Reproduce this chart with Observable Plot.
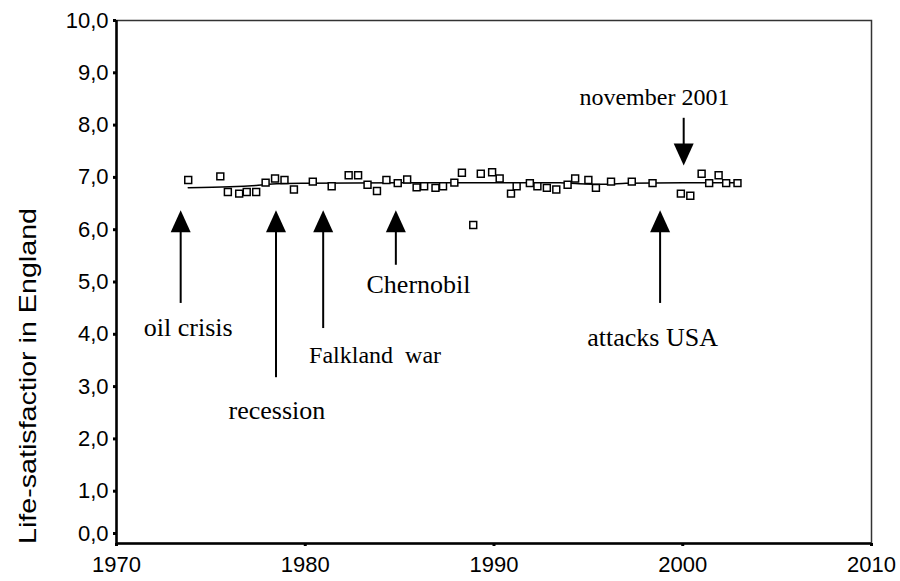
<!DOCTYPE html>
<html><head><meta charset="utf-8">
<script src="https://cdn.jsdelivr.net/npm/d3@7"></script>
<script src="https://cdn.jsdelivr.net/npm/@observablehq/plot@0.6"></script>
<style>body{margin:0;background:#fff} svg{display:block}</style>
</head><body><div id="chart"></div>
<script>
// Survey points: year and average life-satisfaction (0-10)
const years = [1973.8, 1975.5, 1975.9, 1976.5, 1976.9, 1977.4, 1977.9, 1978.4, 1978.9, 1979.4,
  1980.4, 1981.4, 1982.3, 1982.8, 1983.3, 1983.8, 1984.3, 1984.9, 1985.4, 1985.9,
  1986.3, 1986.9, 1987.3, 1987.9, 1988.3, 1988.9, 1989.3, 1989.9, 1990.3, 1990.9,
  1991.2, 1991.9, 1992.3, 1992.8, 1993.3, 1993.9, 1994.3, 1995.0, 1995.4, 1996.2,
  1997.3, 1998.4, 1999.9, 2000.4, 2001.0, 2001.4, 2001.9, 2002.3, 2002.9];
const values = [6.95, 7.02, 6.72, 6.69, 6.72, 6.72, 6.90, 6.98, 6.95, 6.77,
  6.92, 6.83, 7.04, 7.04, 6.86, 6.74, 6.95, 6.89, 6.96, 6.81,
  6.83, 6.80, 6.83, 6.90, 7.09, 6.09, 7.07, 7.10, 6.98, 6.69,
  6.83, 6.89, 6.83, 6.80, 6.77, 6.86, 6.98, 6.95, 6.80, 6.92,
  6.92, 6.89, 6.69, 6.65, 7.07, 6.89, 7.04, 6.89, 6.89];

// Smoothed trend line
const trendYears = [1973.8, 1976.0, 1977.5, 1978.5, 1980.0, 1985.0, 1990.0, 1993.5, 1994.5, 1996.0, 1997.0, 2000.0, 2002.9];
const trendValues = [6.80, 6.82, 6.85, 6.88, 6.89, 6.90, 6.90, 6.90, 6.88, 6.87, 6.89, 6.90, 6.90];

// Axis ticks
const xTicks = [1970, 1980, 1990, 2000, 2010];
const yTicks = [1, 2, 3, 4, 5, 6, 7, 8, 9, 10];
const yTickZero = [0];

// Events (up arrows)
const eventNames = ["oil crisis", "recession", "Falkland\u00a0\u00a0war", "Chernobil", "attacks USA"];
const eventYears = [1973.4, 1978.45, 1980.95, 1984.8, 1998.8];
const eventHeadValue = 6.16;
const eventShaftTop = 6.0;
const eventShaftBottom = [4.59, 3.17, 4.11, 5.32, 4.59];
const labelYears = [1973.8, 1978.5, 1983.7, 1986.0, 1998.4];
const labelValues = [4.13, 2.54, 3.59, 4.95, 3.94];
const labelSizes = [26, 26, 24, 26, 26];

// november 2001 (down arrow)
const novName = "november 2001";
const novYear = 2000.05;
const novShaftTop = 8.13;
const novShaftBottom = 7.55;
const novHeadValue = 7.44;
const novLabelYear = 1998.5;
const novLabelValue = 8.53;

const events = eventNames.map((name, i) => ({name, x: eventYears[i], y2: eventShaftBottom[i], lx: labelYears[i], ly: labelValues[i], size: labelSizes[i]}));

const triUp = {draw(ctx) { ctx.moveTo(0, -11); ctx.lineTo(10, 11); ctx.lineTo(-10, 11); ctx.closePath(); }};
const triDown = {draw(ctx) { ctx.moveTo(0, 11); ctx.lineTo(10, -11); ctx.lineTo(-10, -11); ctx.closePath(); }};

const serif = "'Liberation Serif', 'Times New Roman', serif";
const fmtY = d => d.toFixed(1).replace(".", ",");

const plot = Plot.plot({
  width: 900, height: 581,
  marginLeft: 116, marginRight: 29, marginTop: 20, marginBottom: 38,
  style: {fontFamily: "'Liberation Sans', Arial, sans-serif", fontSize: "22px", color: "#000", background: "#fff"},
  x: {domain: [1970, 2010]},
  y: {domain: [0, 10]},
  marks: [
    Plot.frame({stroke: "#333", strokeWidth: 1.5}),
    Plot.axisX({ticks: xTicks, tickFormat: d => String(d), tickSize: 3, strokeWidth: 3, tickPadding: 10, label: null}),
    Plot.axisY({ticks: yTicks, tickFormat: fmtY, tickSize: 3, strokeWidth: 3, tickPadding: 5, label: null}),
    Plot.axisY({ticks: yTickZero, tickFormat: fmtY, tickSize: 3, strokeWidth: 3, tickPadding: 5, label: null, dy: -10}),
    Plot.ruleX([1970], {stroke: "#000", strokeWidth: 2.5}),
    Plot.ruleY([0], {stroke: "#000", strokeWidth: 2.5}),
    Plot.line(trendYears.map((x, i) => ({x, y: trendValues[i]})), {x: "x", y: "y", stroke: "#000", strokeWidth: 1.5, curve: "monotone-x"}),
    Plot.dot(years.map((x, i) => ({x, y: values[i]})), {x: "x", y: "y", symbol: "square", r: 3.9, stroke: "#000", strokeWidth: 1.5, fill: "#fff"}),
    // up arrows
    Plot.ruleX(events, {x: "x", y1: eventShaftTop, y2: "y2", stroke: "#000", strokeWidth: 2}),
    Plot.dot(events, {x: "x", y: () => eventHeadValue, symbol: triUp, r: 10, fill: "#000", stroke: null}),
    Plot.text(events, {x: "lx", y: "ly", text: "name", fontSize: "size", fontFamily: serif, fill: "#000"}),
    // november 2001
    Plot.ruleX([novYear], {x: d => d, y1: novShaftTop, y2: novShaftBottom, stroke: "#000", strokeWidth: 2}),
    Plot.dot([novYear], {x: d => d, y: () => novHeadValue, symbol: triDown, r: 10, fill: "#000", stroke: null}),
    Plot.text([novName], {x: () => novLabelYear, y: () => novLabelValue, text: d => d, fontFamily: serif, fontSize: 24, fill: "#000"})
  ]
});

// y-axis title
d3.select(plot).append("text")
  .attr("transform", "translate(30,376) rotate(-90)")
  .attr("text-anchor", "middle")
  .attr("dominant-baseline", "middle")
  .attr("font-family", "'Liberation Sans', Arial, sans-serif")
  .attr("font-size", 24)
  .attr("textLength", 336)
  .attr("lengthAdjust", "spacingAndGlyphs")
  .attr("fill", "#000")
  .text("Life-satisfactior in England");

document.getElementById("chart").append(plot);
</script>
</body></html>
